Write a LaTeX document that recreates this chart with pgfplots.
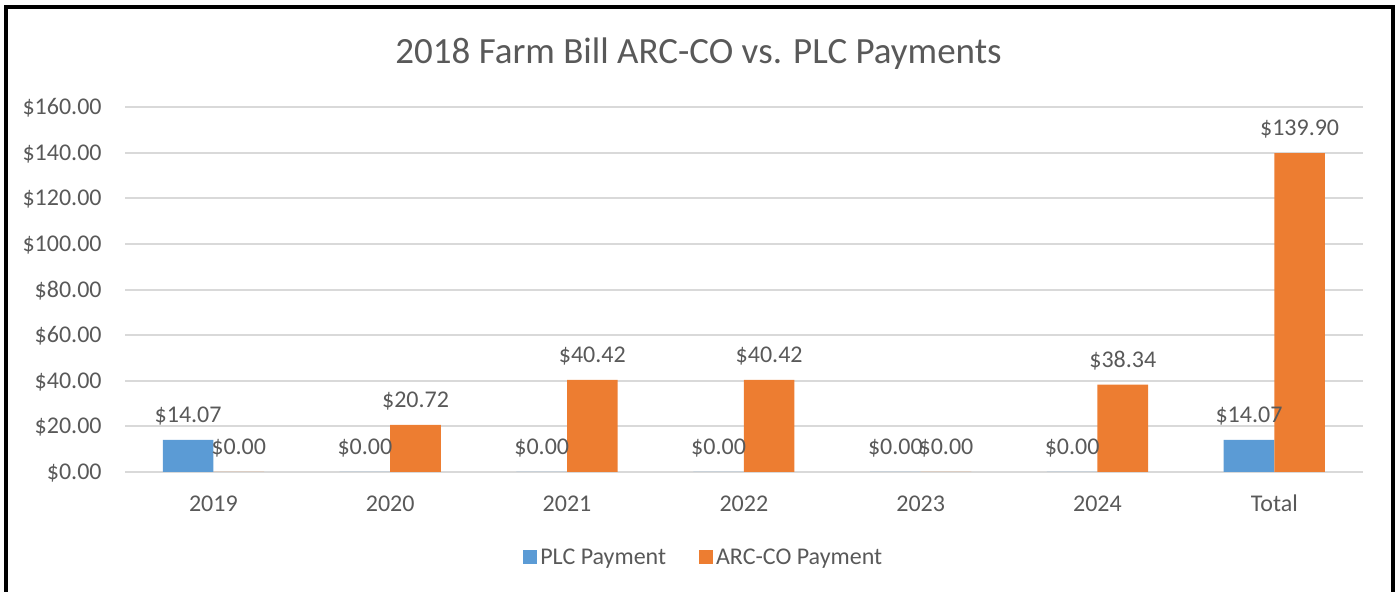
\documentclass[border=0pt]{standalone}
\usepackage{pgfplots}
\pgfplotsset{compat=1.18}
\usepackage{fontspec}
\setmainfont{Carlito}
\definecolor{plcblue}{HTML}{5B9BD5}
\definecolor{arcorange}{HTML}{ED7D31}
\definecolor{txtgray}{HTML}{595959}
\definecolor{gridgray}{HTML}{D9D9D9}
\begin{document}
\begin{tikzpicture}
\path[use as bounding box] (0,0) rectangle (697.5pt,296pt);
\draw[line width=1.8pt, black] (3pt,-5pt) -- (3pt,292.5pt) -- (696.5pt,292.5pt) -- (696.5pt,-5pt);
\node[anchor=base, text=txtgray, font=\fontsize{18.5}{21}\selectfont, inner sep=0pt] at (349.25pt,264pt) {2018 Farm Bill ARC-CO vs. PLC Payments};
\begin{axis}[
  at={(62.5pt,60pt)}, anchor=south west,
  scale only axis, width=618.85pt, height=182.4pt,
  ybar=0pt, bar width=25.3pt,
  xmin=-0.5, xmax=6.5, ymin=0, ymax=160,
  ytick={0,20,...,160},
  xtick={0,1,2,3,4,5,6},
  xticklabels={2019,2020,2021,2022,2023,2024,Total},
  /pgf/number format/assume math mode=true,
  yticklabel={\$\pgfmathprintnumber[fixed,fixed zerofill,precision=2]{\tick}},
  yticklabel style={anchor=base east, inner sep=0pt, xshift=-11.5pt, yshift=-3.8pt, font=\fontsize{12}{14}\selectfont, text=txtgray},
  xticklabel style={anchor=base, inner sep=0pt, yshift=-15.5pt, font=\fontsize{12}{14}\selectfont, text=txtgray},
  axis line style={draw=none},
  tick style={draw=none},
  ymajorgrids, major grid style={gridgray, line width=1pt},
  nodes near coords={\$\pgfmathprintnumber[fixed,fixed zerofill,precision=2]{\pgfplotspointmeta}},
  every node near coord/.append style={anchor=base, inner sep=0pt, yshift=8.75pt, font=\fontsize{12}{14}\selectfont, text=txtgray},
  legend columns=2,
  legend style={at={(0.468,-0.235)}, anchor=center, draw=none, fill=none,
    font=\fontsize{12}{14}\selectfont, text=txtgray,
    nodes={inner xsep=1.5pt, inner ysep=1pt},
    /tikz/every even column/.append style={column sep=15pt}},
  legend image code/.code={\fill[#1] (0pt,-3.3pt) rectangle (7pt,3.7pt);},
]
\addplot[fill=plcblue, draw=none] coordinates {(0,14.07) (1,0) (2,0) (3,0) (4,0) (5,0) (6,14.07)};
\addplot[fill=arcorange, draw=none] coordinates {(0,0) (1,20.72) (2,40.42) (3,40.42) (4,0) (5,38.34) (6,139.90)};
\legend{PLC Payment, ARC-CO Payment}
\end{axis}
\end{tikzpicture}
\end{document}
